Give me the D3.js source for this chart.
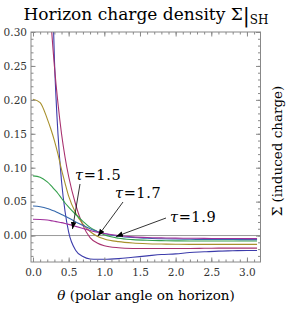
<!DOCTYPE html>
<html>
<head>
<meta charset="utf-8">
<script src="https://d3js.org/d3.v7.min.js"></script>
<style>
  body { margin: 0; padding: 0; background: #fff; }
  text { font-family: "DejaVu Serif", "Liberation Serif", serif; }
</style>
</head>
<body>
<script>
// polar angle samples on the horizon
var theta = [0, 0.1, 0.2, 0.25, 0.3, 0.35, 0.4, 0.45, 0.5, 0.6, 0.7, 0.8, 0.9, 1.0,
             1.2, 1.4, 1.6, 1.8, 2.0, 2.2, 2.4, 2.6, 2.8, 3.0, Math.PI];

// induced charge, one array per curve
var sigmaIndigo  = [3.0, 1.5, 0.70, 0.45, 0.26, 0.15, 0.08, 0.035, 0.005, -0.022, -0.031, -0.0345, -0.035, -0.035,
                    -0.034, -0.032, -0.030, -0.028, -0.027, -0.025, -0.024, -0.023, -0.0225, -0.022, -0.022];
var sigmaMagenta = [2.0, 0.9, 0.42, 0.32, 0.25, 0.195, 0.15, 0.115, 0.087, 0.045, 0.015, -0.003, -0.011, -0.015,
                    -0.018, -0.019, -0.0192, -0.0192, -0.019, -0.019, -0.0188, -0.0186, -0.0185, -0.0185, -0.0185];
var sigmaOlive   = [0.201, 0.196, 0.172, 0.157, 0.140, 0.120, 0.097, 0.077, 0.058, 0.033, 0.017, 0.006, -0.001, -0.005,
                    -0.009, -0.011, -0.012, -0.0125, -0.0128, -0.013, -0.013, -0.013, -0.013, -0.013, -0.013];
var sigmaGreen   = [0.088, 0.086, 0.079, 0.074, 0.068, 0.062, 0.055, 0.048, 0.042, 0.031, 0.021, 0.012, 0.006, 0.001,
                    -0.004, -0.006, -0.007, -0.0075, -0.0078, -0.008, -0.008, -0.008, -0.008, -0.008, -0.008];
var sigmaBlue    = [0.0435, 0.0425, 0.040, 0.038, 0.036, 0.0335, 0.031, 0.0285, 0.026, 0.020, 0.015, 0.010, 0.006, 0.003,
                    -0.001, -0.003, -0.004, -0.0048, -0.0052, -0.0055, -0.0057, -0.0058, -0.0059, -0.006, -0.006];
var sigmaPurple  = [0.024, 0.0237, 0.0228, 0.022, 0.021, 0.020, 0.019, 0.0178, 0.0165, 0.0135, 0.0105, 0.0075, 0.005, 0.003,
                    0.0, -0.002, -0.003, -0.0035, -0.0038, -0.004, -0.0042, -0.0043, -0.0044, -0.0045, -0.0045];

var curves = [sigmaIndigo, sigmaMagenta, sigmaOlive, sigmaGreen, sigmaBlue, sigmaPurple];
var colors = ["#3c3cab", "#a8306e", "#a8902c", "#34a04c", "#3468ac", "#a0309c"];

var xTicks = [0, 0.5, 1.0, 1.5, 2.0, 2.5, 3.0];
var yTicks = [0, 0.05, 0.10, 0.15, 0.20, 0.25, 0.30];

var labels = [
  {tau: "1.5", tx: 75, ty: 180, from: [80, 184], to: [72.5, 229]},
  {tau: "1.7", tx: 115, ty: 198, from: [123, 202], to: [98, 236]},
  {tau: "1.9", tx: 170, ty: 222, from: [166, 218], to: [116, 236.5]}
];

var W = 290, H = 310;
var plotL = 31, plotR = 260.5, plotT = 32, plotB = 262;

var svg = d3.select("body").append("svg")
    .attr("width", W).attr("height", H);

var x = d3.scaleLinear().domain([-0.028, 3.19]).range([plotL, plotR]);
var y = d3.scaleLinear().domain([-0.039, 0.30]).range([plotB, plotT]);

var defs = svg.append("defs");
defs.append("clipPath").attr("id", "plot")
  .append("rect").attr("x", plotL).attr("y", plotT)
  .attr("width", plotR - plotL).attr("height", plotB - plotT);

defs.append("marker").attr("id", "head")
    .attr("viewBox", "0 0 10 10").attr("refX", 10).attr("refY", 5)
    .attr("markerWidth", 7).attr("markerHeight", 7)
    .attr("markerUnits", "userSpaceOnUse")
    .attr("orient", "auto")
  .append("path").attr("d", "M0,1 L10,5 L0,9 z").attr("fill", "#000");

// zero line
svg.append("line")
    .attr("x1", plotL).attr("x2", plotR)
    .attr("y1", y(0)).attr("y2", y(0))
    .attr("stroke", "#999").attr("stroke-width", 1);

var line = d3.line()
    .x(function(d, i) { return x(theta[i]); })
    .y(function(d) { return y(d); })
    .curve(d3.curveMonotoneX);

svg.append("g").attr("clip-path", "url(#plot)")
  .selectAll("path").data(curves).enter().append("path")
    .attr("d", line)
    .attr("fill", "none")
    .attr("stroke", function(d, i) { return colors[i]; })
    .attr("stroke-width", 1.1);

// frame with inward ticks
var minorX = d3.range(0, 3.15, 0.1);
var minorY = d3.range(-0.03, 0.3, 0.01);

function styleAxis(g) {
  g.select(".domain").remove();
  g.selectAll("line").attr("stroke", "#888");
  g.selectAll("text").attr("fill", "#333").style("font-size", "10.5px")
    .style("font-family", "DejaVu Serif");
}

svg.append("g").attr("transform", "translate(0," + plotB + ")")
  .call(d3.axisBottom(x).tickValues(minorX).tickSize(-2.5).tickFormat(""))
  .call(styleAxis);
svg.append("g").attr("transform", "translate(0," + plotB + ")")
  .call(d3.axisBottom(x).tickValues(xTicks).tickSize(-4.5).tickPadding(7).tickFormat(d3.format(".1f")))
  .call(styleAxis);
svg.append("g").attr("transform", "translate(0," + plotT + ")")
  .call(d3.axisTop(x).tickValues(minorX).tickSize(-2.5).tickFormat(""))
  .call(styleAxis);
svg.append("g").attr("transform", "translate(0," + plotT + ")")
  .call(d3.axisTop(x).tickValues(xTicks).tickSize(-4.5).tickFormat(""))
  .call(styleAxis);
svg.append("g").attr("transform", "translate(" + plotL + ",0)")
  .call(d3.axisLeft(y).tickValues(minorY).tickSize(-2.5).tickFormat(""))
  .call(styleAxis);
svg.append("g").attr("transform", "translate(" + plotL + ",0)")
  .call(d3.axisLeft(y).tickValues(yTicks).tickSize(-4.5).tickPadding(4).tickFormat(d3.format(".2f")))
  .call(styleAxis);
svg.append("g").attr("transform", "translate(" + plotR + ",0)")
  .call(d3.axisRight(y).tickValues(minorY).tickSize(-2.5).tickFormat(""))
  .call(styleAxis);
svg.append("g").attr("transform", "translate(" + plotR + ",0)")
  .call(d3.axisRight(y).tickValues(yTicks).tickSize(-4.5).tickFormat(""))
  .call(styleAxis);

svg.append("rect")
    .attr("x", plotL).attr("y", plotT)
    .attr("width", plotR - plotL).attr("height", plotB - plotT)
    .attr("fill", "none").attr("stroke", "#888").attr("stroke-width", 1);

// tau annotations
var ann = svg.append("g").selectAll("g").data(labels).enter().append("g");
ann.append("line")
    .attr("x1", function(d) { return d.from[0]; }).attr("y1", function(d) { return d.from[1]; })
    .attr("x2", function(d) { return d.to[0]; }).attr("y2", function(d) { return d.to[1]; })
    .attr("stroke", "#000").attr("stroke-width", 0.8)
    .attr("marker-end", "url(#head)");
var annText = ann.append("text")
    .attr("x", function(d) { return d.tx; }).attr("y", function(d) { return d.ty; })
    .style("font-size", "14.5px").style("letter-spacing", "0.6px").attr("fill", "#000");
annText.append("tspan").style("font-style", "italic").text("τ");
annText.append("tspan").text(function(d) { return "=" + d.tau; });

// title
var title = svg.append("text")
    .attr("x", 146).attr("y", 20)
    .attr("text-anchor", "middle")
    .style("font-size", "17px").attr("fill", "#000");
title.append("tspan").text("Horizon charge density Σ");
title.append("tspan").style("font-size", "21px").attr("dy", 2).text("|");
title.append("tspan").style("font-size", "12px").attr("dy", 2).text("SH");

// axis titles
var xt = svg.append("text")
    .attr("x", 146).attr("y", 300)
    .attr("text-anchor", "middle")
    .style("font-size", "13.5px").attr("fill", "#000");
xt.append("tspan").style("font-style", "italic").text("θ");
xt.append("tspan").text(" (polar angle on horizon)");

svg.append("text")
    .attr("transform", "translate(282,151) rotate(-90)")
    .attr("text-anchor", "middle")
    .style("font-size", "13.5px").attr("fill", "#000")
    .text("Σ (induced charge)");
</script>
</body>
</html>
